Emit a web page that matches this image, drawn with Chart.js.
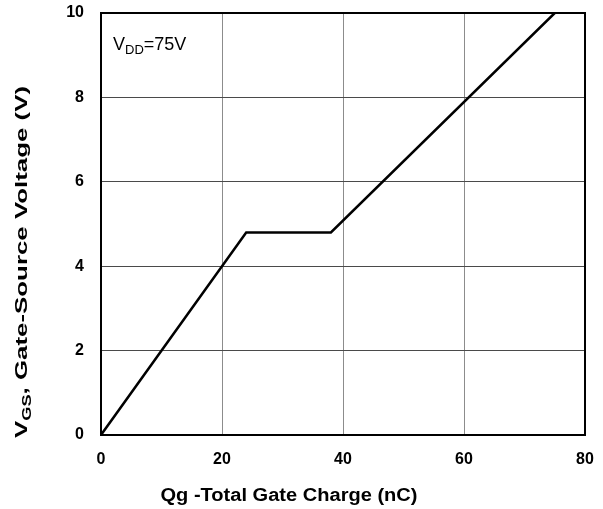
<!DOCTYPE html>
<html>
<head>
<meta charset="utf-8">
<script src="https://cdn.jsdelivr.net/npm/chart.js@4/dist/chart.umd.min.js"></script>
<style>
  html, body { margin: 0; padding: 0; background: #fff; }
  #wrap { width: 603px; height: 509px; }
</style>
</head>
<body>
<div id="wrap"><canvas id="gate"></canvas></div>
<script>
// gate charge curve
const qg = [0, 24, 38, 75];
const vgs = [0, 4.8, 4.8, 10];
const xTicks = [0, 20, 40, 60, 80];
const yTicks = [0, 2, 4, 6, 8, 10];

const FONT = 'Arial, "Liberation Sans", sans-serif';

// draw a run of [text, font, dy] pieces, stretched along the baseline to a given length
function drawRuns(ctx, parts, cx, cy, length) {
    let total = 0;
    parts.forEach(([t, f]) => { ctx.font = f; total += ctx.measureText(t).width; });
    ctx.save();
    ctx.translate(cx, cy);
    ctx.scale(length ? length / total : 1, 1);
    let x = -total / 2;
    ctx.textAlign = 'left';
    ctx.textBaseline = 'alphabetic';
    parts.forEach(([t, f, dy]) => {
        ctx.font = f;
        ctx.fillText(t, x, dy);
        x += ctx.measureText(t).width;
    });
    ctx.restore();
}

const frame = {
    id: 'frame',
    afterDraw (chart) {
        const { ctx, chartArea: a } = chart;
        ctx.save();
        ctx.strokeStyle = '#000';
        ctx.lineWidth = 2;
        ctx.strokeRect(a.left, a.top, a.right - a.left, a.bottom - a.top);
        ctx.fillStyle = '#000';

        // x title
        drawRuns(ctx, [['Qg -Total Gate Charge (nC)', `bold 18px ${FONT}`, 0]], 289, 501, 257);

        // y title, rotated, with subscript
        ctx.save();
        ctx.translate(27, 262);
        ctx.rotate(-Math.PI / 2);
        drawRuns(ctx, [
            ['V', `bold 17px ${FONT}`, 0],
            ['GS', `bold 12px ${FONT}`, 4],
            [', Gate-Source Voltage (V)', `bold 17px ${FONT}`, 0]
        ], 0, 0, 352);
        ctx.restore();

        // annotation
        const parts = [
            ['V', `18px ${FONT}`, 0],
            ['DD', `13px ${FONT}`, 4],
            ['=75V', `18px ${FONT}`, 0]
        ];
        let w = 0;
        parts.forEach(([t, f]) => { ctx.font = f; w += ctx.measureText(t).width; });
        drawRuns(ctx, parts, a.left + 12 + w / 2, 50, 0);
        ctx.restore();
    }
};

new Chart(document.getElementById('gate'), {
    type: 'scatter',
    data: {
        datasets: [{
            data: qg.map((q, i) => ({ x: q, y: vgs[i] })),
            showLine: true,
            borderColor: '#000',
            borderWidth: 2.5,
            pointRadius: 0,
            fill: false
        }]
    },
    options: {
        responsive: true,
        maintainAspectRatio: false,
        animation: false,
        layout: { padding: { top: 13, right: 18, left: 0, bottom: 0 } },
        plugins: { legend: { display: false }, tooltip: { enabled: false } },
        scales: {
            x: {
                type: 'linear',
                min: 0,
                max: 80,
                afterBuildTicks: (s) => { s.ticks = xTicks.map((v) => ({ value: v })); },
                afterFit: (s) => { s.height = 74; s.paddingLeft = 0; s.paddingRight = 0; },
                grid: {
                    color: (c) => (c.tick && (c.tick.value === 0 || c.tick.value === 80)) ? 'rgba(0,0,0,0)' : '#8c8c8c',
                    lineWidth: 1,
                    drawTicks: false
                },
                border: { display: false },
                ticks: {
                    color: '#000',
                    font: { family: FONT, size: 16, weight: 'bold' },
                    padding: 15,
                    maxRotation: 0
                }
            },
            y: {
                type: 'linear',
                min: 0,
                max: 10,
                afterBuildTicks: (s) => { s.ticks = yTicks.map((v) => ({ value: v })); },
                afterFit: (s) => { s.width = 101; s.paddingTop = 0; s.paddingBottom = 0; },
                grid: {
                    color: (c) => (c.tick && (c.tick.value === 0 || c.tick.value === 10)) ? 'rgba(0,0,0,0)' : '#4a4a4a',
                    lineWidth: 1,
                    drawTicks: false
                },
                border: { display: false },
                ticks: {
                    color: '#000',
                    font: { family: FONT, size: 16, weight: 'bold' },
                    padding: 17
                }
            }
        }
    },
    plugins: [frame]
});
</script>
</body>
</html>
